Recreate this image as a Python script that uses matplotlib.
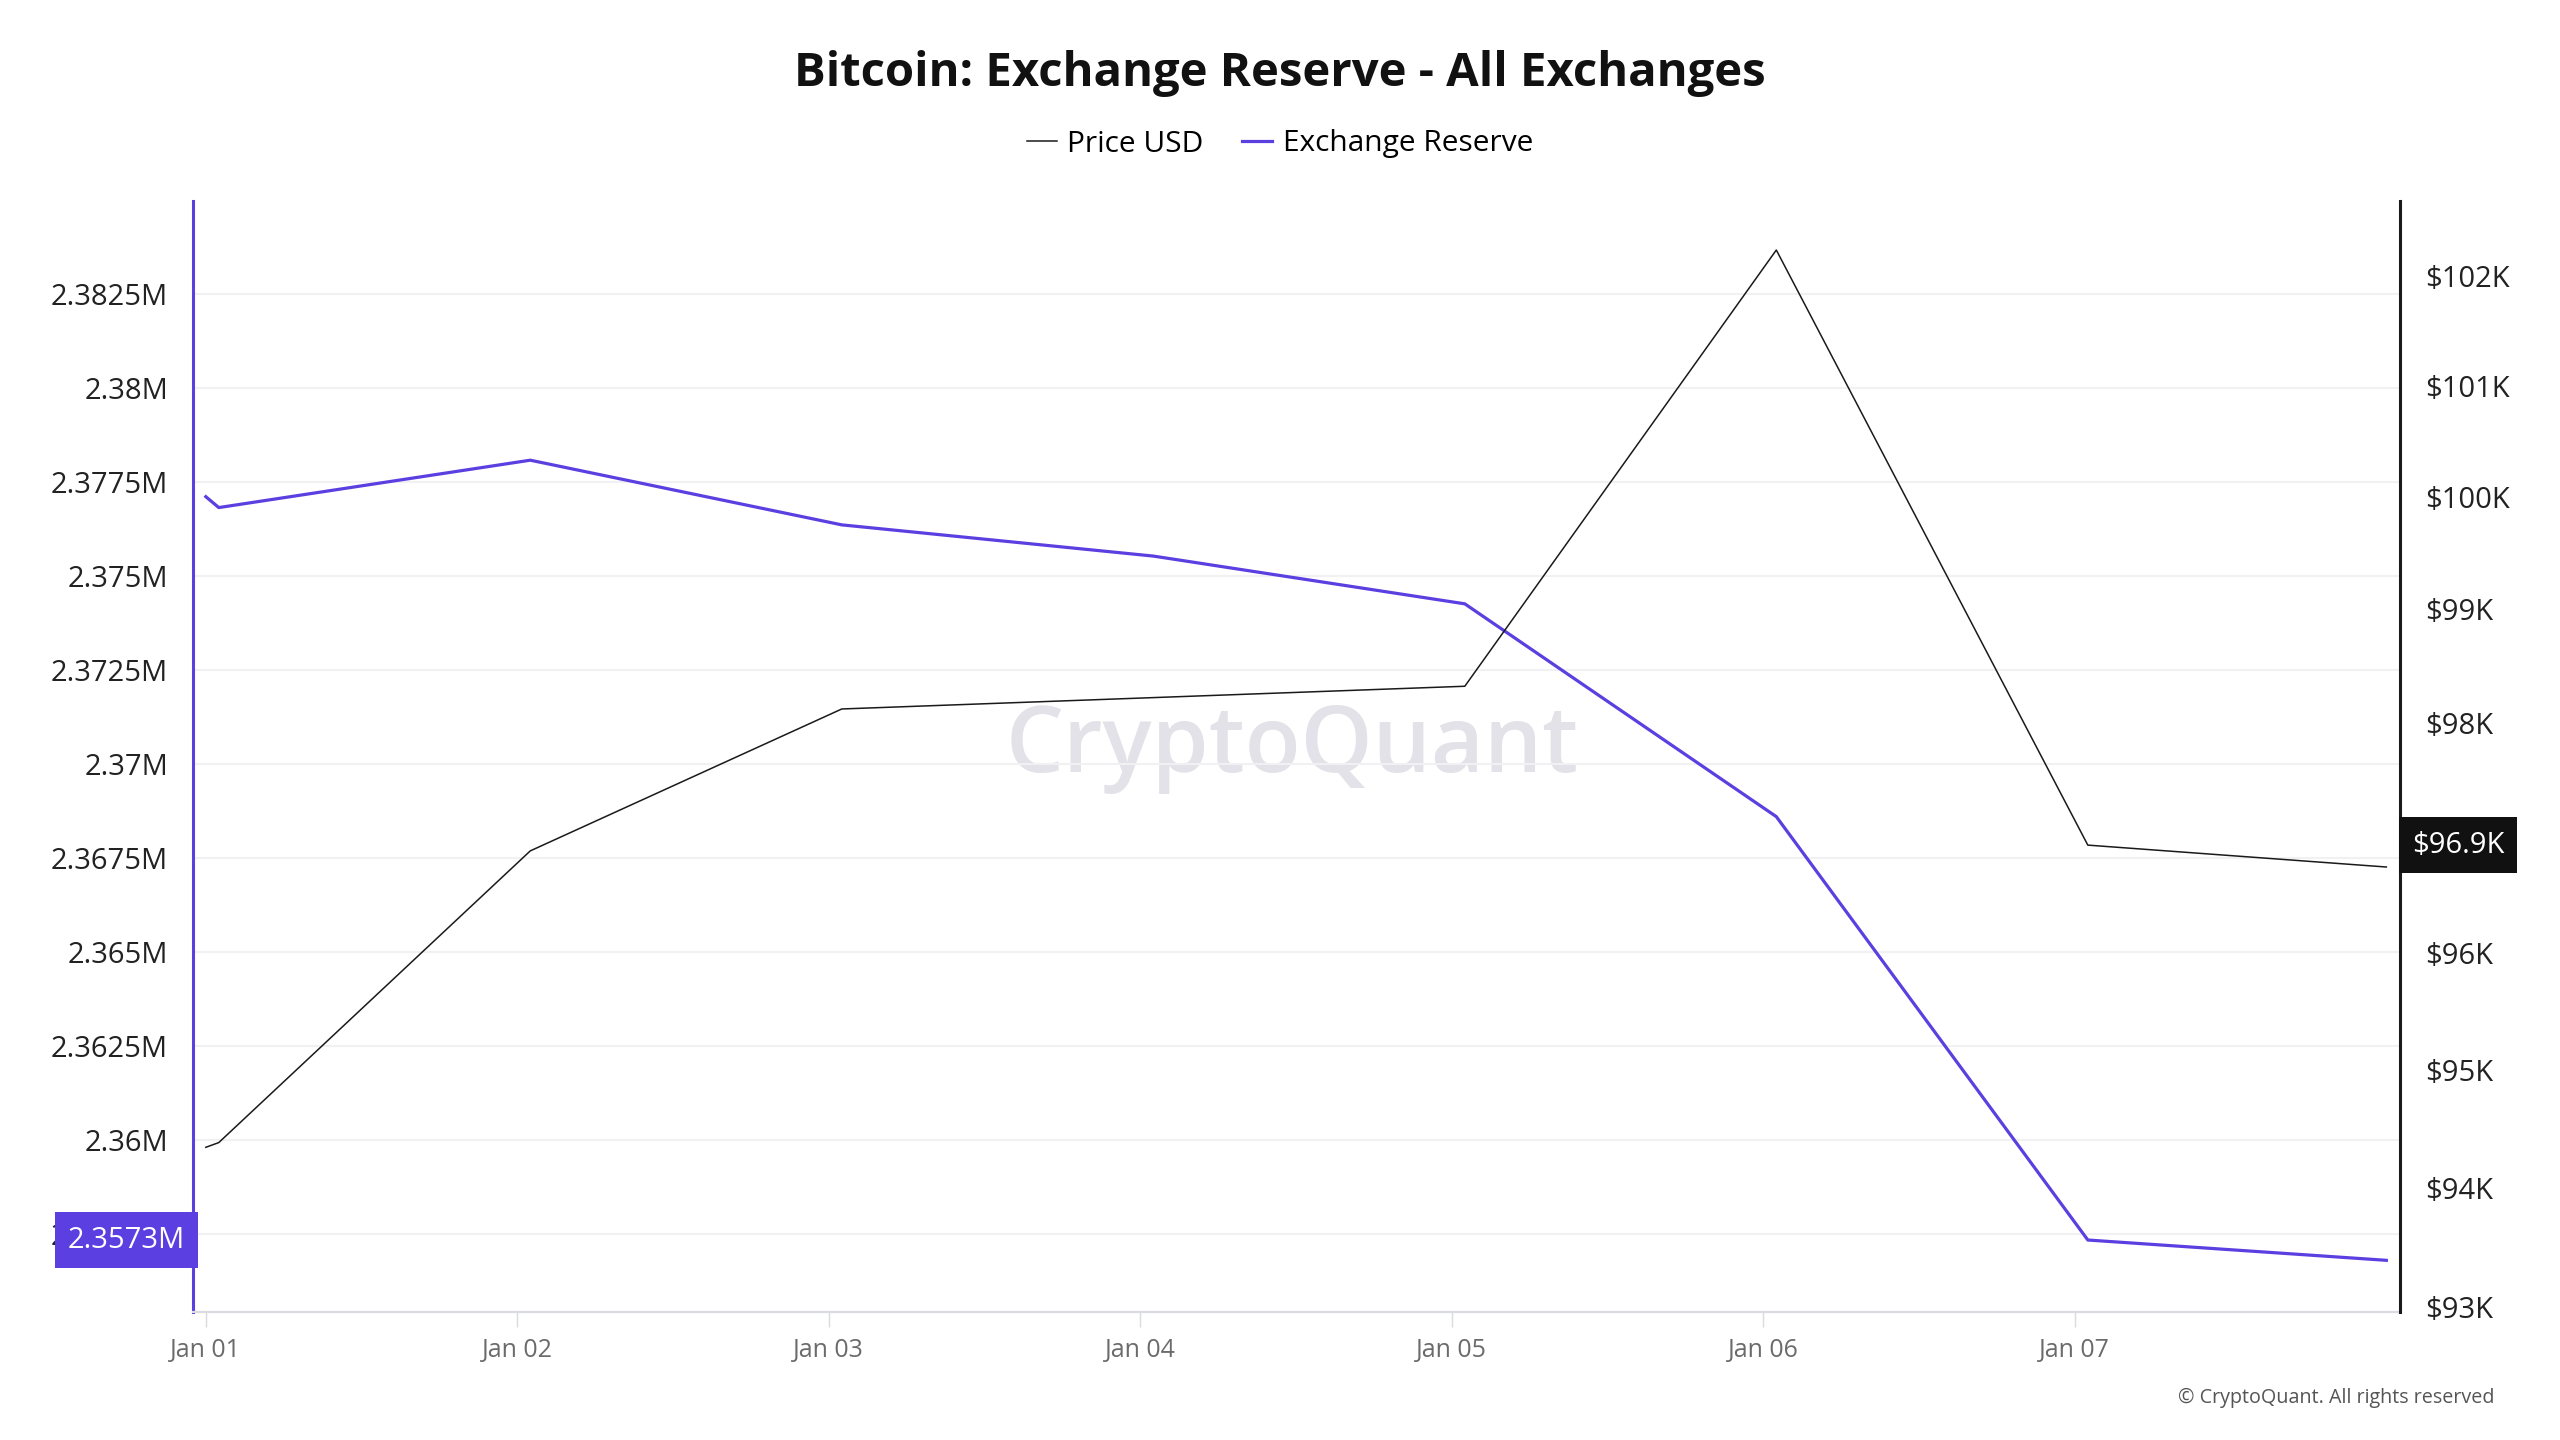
import numpy as np
import pandas as pd
import matplotlib
matplotlib.use('Agg')
import matplotlib.pyplot as plt
import matplotlib.dates as mdates
from matplotlib.ticker import FixedLocator, FuncFormatter, NullLocator

plt.rcParams['font.family'] = ['Open Sans', 'DejaVu Sans']

# Данные (янв. 2025)
dates = pd.to_datetime([
    '2025-01-01 00:00', '2025-01-01 01:00', '2025-01-02 01:00', '2025-01-03 01:00',
    '2025-01-04 01:00', '2025-01-05 01:00', '2025-01-06 01:00', '2025-01-07 01:00',
    '2025-01-08 00:00',
])
price_usd = [94340, 94380, 96880, 98120, 98220, 98320, 102240, 96930, 96740]
exchange_reserve = [2377110, 2376820, 2378080, 2376360, 2375530, 2374260, 2368600, 2357340, 2356800]

reserve_ticks = [2357500, 2360000, 2362500, 2365000, 2367500, 2370000,
                 2372500, 2375000, 2377500, 2380000, 2382500]
price_ticks = [93000, 94000, 95000, 96000, 97000, 98000, 99000, 100000, 101000, 102000]
x_ticks = pd.date_range('2025-01-01', '2025-01-07', freq='D')

PURPLE = '#5B3FE0'
DARK = '#1a1a1a'

fig = plt.figure(figsize=(25.6, 14.4), dpi=100)
ax = fig.add_axes([0.0754, 0.0889, 0.862, 0.7715])
ax2 = ax.twinx()

# линии
ax.plot(dates, exchange_reserve, color=PURPLE, lw=2.3, label='Exchange Reserve', zorder=3)
ax2.plot(dates, price_usd, color=DARK, lw=1.1, label='Price USD', zorder=3)

# оси
ax.set_xlim(pd.Timestamp('2025-01-01') - pd.Timedelta(days=0.041),
            pd.Timestamp('2025-01-01') + pd.Timedelta(days=7.043))
ax.set_ylim(2355426, 2384973)
ax2.set_yscale('log')
ax2.set_ylim(92958, 102690)

ax.yaxis.set_major_locator(FixedLocator(reserve_ticks))
ax.yaxis.set_major_formatter(FuncFormatter(lambda v, p: f"{v / 1e6:g}M"))
ax2.yaxis.set_major_locator(FixedLocator(price_ticks))
ax2.yaxis.set_major_formatter(FuncFormatter(lambda v, p: f"${v / 1000:g}K"))
ax2.yaxis.set_minor_locator(NullLocator())

ax.xaxis.set_major_locator(FixedLocator(mdates.date2num(x_ticks)))
ax.xaxis.set_major_formatter(mdates.DateFormatter('%b %d'))

ax.grid(axis='y', color='#f1f1f3', lw=1.5, zorder=0)
ax.tick_params(axis='y', length=0, pad=18, labelsize=21, labelcolor='#222222')
ax2.tick_params(axis='y', which='both', length=0, pad=18, labelsize=21, labelcolor='#222222')
ax.tick_params(axis='x', length=11, width=1, color='#d9dbe0', pad=8,
               labelsize=18, labelcolor='#6b6b6b')

for s in ['top']:
    ax.spines[s].set_visible(False)
    ax2.spines[s].set_visible(False)
ax2.spines['left'].set_visible(False)
ax2.spines['bottom'].set_visible(False)
ax.spines['right'].set_visible(False)
ax.spines['left'].set_color(PURPLE)
ax.spines['left'].set_linewidth(2.2)
ax2.spines['right'].set_color(DARK)
ax2.spines['right'].set_linewidth(2.2)
ax.spines['bottom'].set_color('#d9dbe0')
ax.spines['bottom'].set_linewidth(1.6)

# подписи последних значений
ax.text(-0.0035, exchange_reserve[-2], f"{exchange_reserve[-2] / 1e6:.4f}M",
        transform=ax.get_yaxis_transform(), ha='right', va='center',
        fontsize=21, color='white', zorder=10, clip_on=False,
        bbox=dict(boxstyle='square,pad=0.45', fc=PURPLE, ec='none'))
ax2.text(1.0055, price_usd[-2], f"${price_usd[-2] / 1000:.1f}K",
         transform=ax2.get_yaxis_transform(), ha='left', va='center',
         fontsize=21, color='white', zorder=10, clip_on=False,
         bbox=dict(boxstyle='square,pad=0.45', fc='#111111', ec='none'))

# водяной знак
ax.text(0.498, 0.508, 'CryptoQuant', transform=ax.transAxes, ha='center', va='center',
        fontsize=66, color='#e2e2e8', fontweight='semibold', zorder=0)

# заголовок, легенда, копирайт
fig.text(0.5, 0.949, 'Bitcoin: Exchange Reserve - All Exchanges', ha='center', va='center',
         fontsize=34, fontweight='bold', color='#111111')
h1, l1 = ax2.get_legend_handles_labels()
h2, l2 = ax.get_legend_handles_labels()
fig.legend(h1 + h2, l1 + l2, loc='center', bbox_to_anchor=(0.5, 0.9), ncol=2,
           frameon=False, fontsize=21.5, handlelength=1.0, handletextpad=0.35,
           columnspacing=1.3)
fig.text(0.9746, 0.0292, '© CryptoQuant. All rights reserved', ha='right', va='center',
         fontsize=14.2, color='#555555')

fig.savefig('out.png', dpi=100)
